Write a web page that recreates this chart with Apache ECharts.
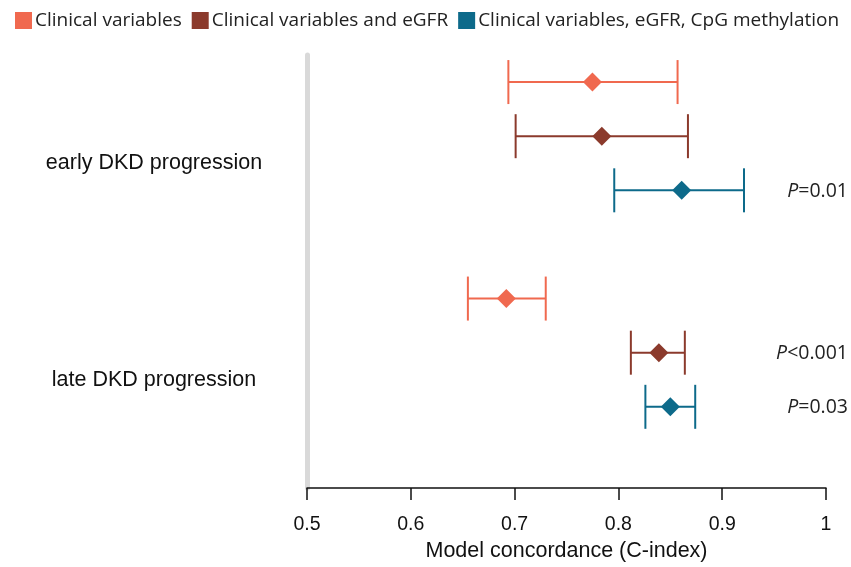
<!DOCTYPE html>
<html><head><meta charset="utf-8">
<script src="https://cdn.jsdelivr.net/npm/echarts@6/dist/echarts.min.js"></script>
<style>html,body{margin:0;padding:0;background:#fff}#c{width:851px;height:567px}</style>
</head><body><div id="c"></div>
<script>
// ---- data ----
const categories = ['early DKD progression', 'late DKD progression'];
const seriesNames = ['Clinical variables', 'Clinical variables and eGFR', 'Clinical variables, eGFR, CpG methylation'];
const seriesColors = ['#F0694F', '#8B3A2C', '#0D6A8A'];
const clinicalMid  = [0.775, 0.692];
const clinicalLow  = [0.694, 0.655];
const clinicalHigh = [0.857, 0.730];
const egfrMid  = [0.784, 0.839];
const egfrLow  = [0.701, 0.812];
const egfrHigh = [0.867, 0.864];
const cpgMid  = [0.861, 0.850];
const cpgLow  = [0.796, 0.826];
const cpgHigh = [0.921, 0.874];
const pLabels = [['P', '=0.01'], ['P', '<0.001'], ['P', '=0.03']];
const pGroup  = [0, 1, 1];
const pSeries = [2, 1, 2];
const xTicks = [0.5, 0.6, 0.7, 0.8, 0.9, 1];

const mids = [clinicalMid, egfrMid, cpgMid];
const lows = [clinicalLow, egfrLow, cpgLow];
const highs = [clinicalHigh, egfrHigh, cpgHigh];
const rowOf = (g, s) => g * 4 + s + 1;
const groupRow = g => g * 4 + 2.5;

const series = [];
seriesNames.forEach((name, s) => {
  const errData = categories.map((c, g) => [lows[s][g], mids[s][g], highs[s][g], rowOf(g, s)]);
  series.push({
    type: 'custom', name, color: seriesColors[s], z: 2,
    encode: { x: [0, 2], y: 3 },
    data: errData,
    renderItem: (params, api) => {
      const y = api.coord([0.5, api.value(3)])[1];
      const x1 = api.coord([api.value(0), 0])[0];
      const x2 = api.coord([api.value(2), 0])[0];
      const st = { stroke: seriesColors[s], lineWidth: 2 };
      const h = 22;
      return { type: 'group', children: [
        { type: 'line', shape: { x1, y1: y, x2, y2: y }, style: st },
        { type: 'line', shape: { x1, y1: y - h, x2: x1, y2: y + h }, style: st },
        { type: 'line', shape: { x1: x2, y1: y - h, x2, y2: y + h }, style: st }
      ]};
    }
  });
  series.push({
    type: 'scatter', name, color: seriesColors[s], z: 3,
    symbol: 'diamond', symbolSize: 19,
    itemStyle: { color: seriesColors[s], opacity: 1 },
    data: categories.map((c, g) => [mids[s][g], rowOf(g, s)])
  });
});
series.push({
  type: 'custom', name: 'pvalues', z: 4, silent: true,
  encode: { x: 0, y: 1 },
  data: pLabels.map((p, i) => [1, rowOf(pGroup[i], pSeries[i]), i]),
  renderItem: (params, api) => {
    const pt = api.coord([api.value(0), api.value(1)]);
    const p = pLabels[api.value(2)];
    return { type: 'text', x: pt[0] + 22, y: pt[1] + 1, style: {
      text: '{i|' + p[0] + '}{n|' + p[1] + '}',
      align: 'right', verticalAlign: 'middle',
      rich: {
        i: { fontFamily: 'Open Sans', fontStyle: 'italic', fontSize: 19.5, fill: '#222' },
        n: { fontFamily: 'Open Sans', fontSize: 19.5, fill: '#222' }
      }
    }};
  }
});

const chart = echarts.init(document.getElementById('c'), null, { renderer: 'canvas' });
chart.setOption({
  animation: false,
  backgroundColor: '#fff',
  legend: {
    data: seriesNames, left: 10, top: 6, icon: 'rect',
    itemWidth: 17, itemHeight: 17, itemGap: 10,
    textStyle: { fontFamily: 'Open Sans', fontSize: 19, color: '#222', padding: [0, 0, 0, -2] }
  },
  grid: { left: 307, right: 25, top: 55, bottom: 77 },
  xAxis: {
    type: 'value', min: xTicks[0], max: xTicks[xTicks.length - 1], interval: 0.1,
    name: 'Model concordance (C-index)', nameLocation: 'middle', nameGap: 52,
    nameTextStyle: { fontFamily: 'Liberation Sans', fontSize: 21.5, color: '#111' },
    axisLine: { show: true, lineStyle: { color: '#111', width: 1.5 } },
    axisTick: { show: true, length: 12, lineStyle: { color: '#111', width: 1.5 } },
    axisLabel: { margin: 27, fontFamily: 'Liberation Sans', fontSize: 19.5, color: '#111',
      formatter: v => { const t = xTicks.find(x => Math.abs(x - v) < 1e-6); return t === undefined ? '' : (t === 1 ? '1' : t.toFixed(1)); } },
    splitLine: { show: false }
  },
  yAxis: {
    type: 'value', inverse: true, min: 0.5, max: 8.5, interval: 0.5,
    axisLine: { show: true, onZero: false, lineStyle: { color: '#d9d9d9', width: 5 } },
    axisTick: { show: false }, splitLine: { show: false },
    axisLabel: { margin: 153, align: 'center', fontFamily: 'Liberation Sans', fontSize: 21.5, color: '#111',
      padding: [8, 0, 0, 0],
      formatter: v => { const g = categories.findIndex((c, i) => Math.abs(groupRow(i) - v) < 1e-6); return g < 0 ? '' : categories[g]; } }
  },
  series
});
</script></body></html>
